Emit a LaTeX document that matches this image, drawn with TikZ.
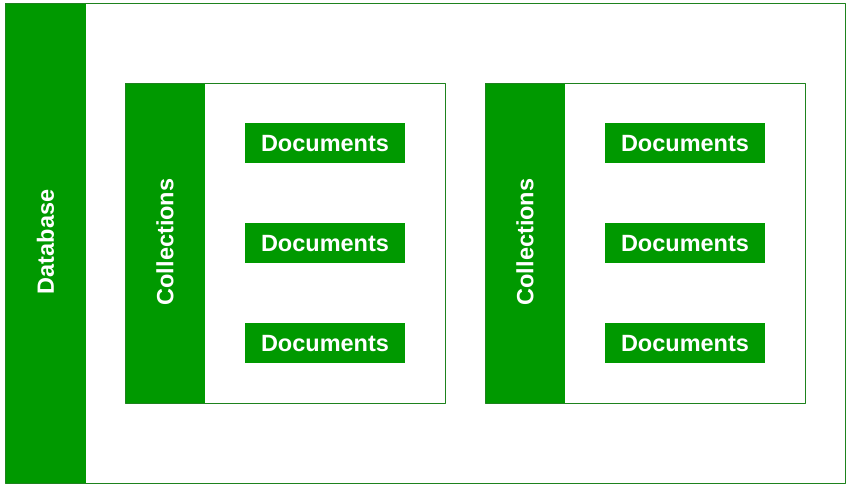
\documentclass[tikz,border=0pt]{standalone}
\usepackage{fontspec}
\setmainfont{Liberation Sans}
\definecolor{dbgreen}{RGB}{0,153,0}
\definecolor{framegreen}{RGB}{30,130,30}
\tikzset{
  frame/.style={draw=framegreen, line width=0.9pt},
  bartext/.style={text=white, font=\fontsize{23.5}{28}\selectfont\bfseries, rotate=90, inner sep=0pt},
  docbox/.style={fill=dbgreen, text=white, font=\fontsize{23.5}{28}\selectfont\bfseries,
    minimum width=160pt, minimum height=40pt, inner sep=0pt}
}
\begin{document}
\begin{tikzpicture}[x=1pt,y=-1pt,line join=round]
  \useasboundingbox (0,0) rectangle (852,491);
  % database
  \fill[dbgreen] (5,3) rectangle (86,483);
  \draw[frame] (5,3) rectangle (845,483);
  \node[bartext] (database) at (45.5,242) {Database};
  % collections with their documents
  \foreach \c/\x in {left/125,right/485} {
    \fill[dbgreen] (\x,83) rectangle ++(80,320);
    \draw[frame] (\x,83) rectangle ++(320,320);
    \node[bartext] (coll-\c) at (\x+40,242) {Collections};
    \foreach \r/\y in {1/143,2/243,3/343}
      \node[docbox, text depth=-1pt] (doc-\c-\r) at (\x+200,\y) {Documents};
  }
\end{tikzpicture}
\end{document}
